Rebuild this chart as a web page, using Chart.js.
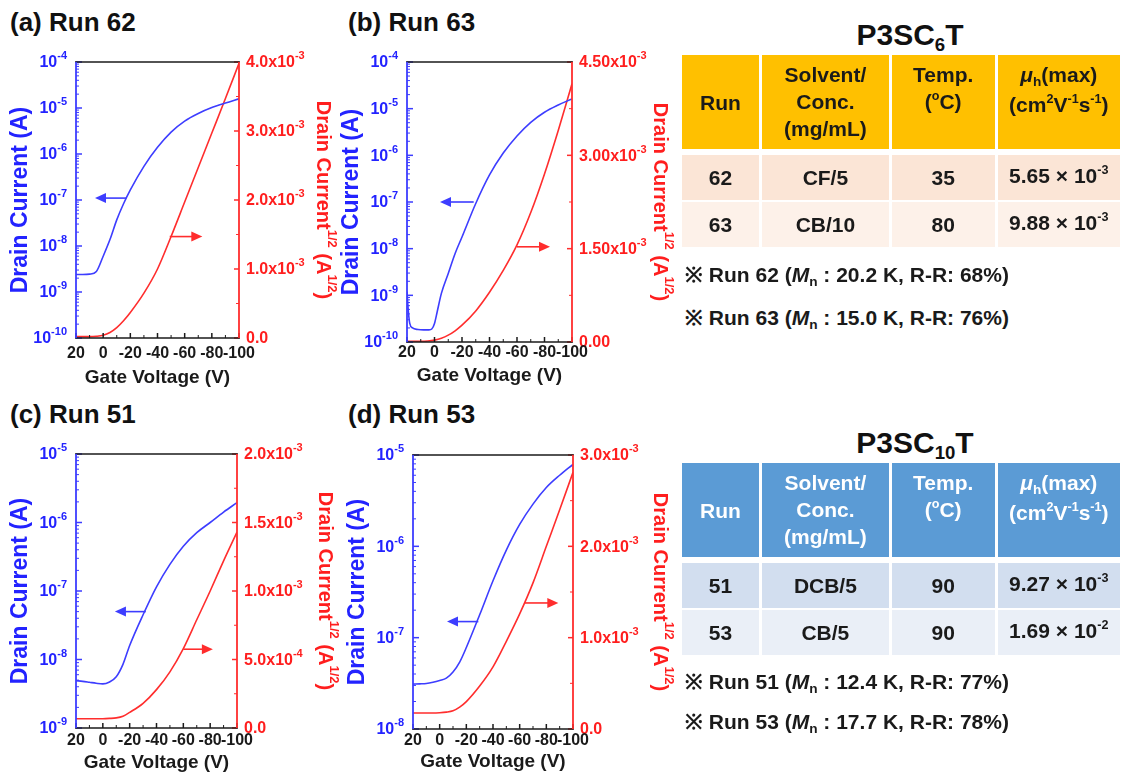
<!DOCTYPE html>
<html>
<head>
<meta charset="utf-8">
<script src="https://cdn.jsdelivr.net/npm/chart.js@4.4.1/dist/chart.umd.min.js"></script>
<style>
  html, body { margin: 0; padding: 0; background: #fff; }
  body { width: 1123px; height: 774px; position: relative; overflow: hidden;
         font-family: 'Liberation Sans', Arial, sans-serif; font-weight: bold; color: #1a1a1a; }
  .box { position: absolute; }
  .ptitle { position: absolute; font-size: 26px; line-height: 30px; color: #111; }
  .ttl { position: absolute; width: 230px; text-align: center; font-size: 30px; line-height: 34px; color: #111; }
  .ttl sub { font-size: 0.62em; vertical-align: 0; position: relative; top: 0.3em; }
  .tbl { position: absolute; left: 682px; border-collapse: separate; border-spacing: 0;
         table-layout: fixed; font-size: 21px; line-height: 27px; }
  .tbl td { text-align: center; padding: 0; border-right: 3px solid #fff; border-bottom: 2px solid #fff; }
  .tbl thead td { height: 88px; border-bottom: 6px solid #fff; vertical-align: top; padding-top: 6px; }
  .tbl thead td.mid { vertical-align: middle; padding-top: 0; }
  .tbl tbody td { height: 45px; }
  .tbl sup { font-size: 0.6em; vertical-align: 0; position: relative; top: -0.7em; }
  .tbl sub { font-size: 0.65em; vertical-align: 0; position: relative; top: 0.3em; }
  .orange thead td { background: #FFC000; color: #1a1a1a; }
  .orange tr.r1 td { background: #FBE5D6; }
  .orange tr.r2 td { background: #FDF1E9; }
  .blue thead td { background: #5B9BD5; color: #fff; }
  .blue tr.r1 td { background: #D2DEEF; }
  .blue tr.r2 td { background: #EAEFF7; }
  .note { position: absolute; left: 685px; font-size: 21px; line-height: 24px; white-space: nowrap; color: #1a1a1a; }
  .note sub { font-size: 0.65em; vertical-align: 0; position: relative; top: 0.3em; }
</style>
</head>
<body>
<div class="ptitle" style="left:10px;top:7px;">(a) Run 62</div>
<div class="ptitle" style="left:348px;top:7px;">(b) Run 63</div>
<div class="ptitle" style="left:10px;top:399px;">(c) Run 51</div>
<div class="ptitle" style="left:348px;top:399px;">(d) Run 53</div>

<div class="box" style="left:0;top:40px;width:340px;height:350px;"><canvas id="c62"></canvas></div>
<div class="box" style="left:340px;top:40px;width:345px;height:350px;"><canvas id="c63"></canvas></div>
<div class="box" style="left:0;top:430px;width:340px;height:344px;"><canvas id="c51"></canvas></div>
<div class="box" style="left:340px;top:430px;width:345px;height:344px;"><canvas id="c53"></canvas></div>

<div class="ttl" style="left:795px;top:18px;">P3SC<sub>6</sub>T</div>
<table class="tbl orange" style="top:55px;">
  <colgroup><col style="width:81px"><col style="width:131px"><col style="width:107px"><col style="width:126px"></colgroup>
  <thead><tr><td class="mid">Run</td><td>Solvent/<br>Conc.<br>(mg/mL)</td><td>Temp.<br>(<sup>o</sup>C)</td><td><i>μ</i><sub>h</sub>(max)<br>(cm<sup>2</sup>V<sup>-1</sup>s<sup>-1</sup>)</td></tr></thead>
  <tbody>
    <tr class="r1"><td>62</td><td>CF/5</td><td>35</td><td>5.65 × 10<sup>-3</sup></td></tr>
    <tr class="r2"><td>63</td><td>CB/10</td><td>80</td><td>9.88 × 10<sup>-3</sup></td></tr>
  </tbody>
</table>
<div class="note" style="top:263px;">※ Run 62 (<i>M</i><sub>n</sub> : 20.2 K, R-R: 68%)</div>
<div class="note" style="top:306px;">※ Run 63 (<i>M</i><sub>n</sub> : 15.0 K, R-R: 76%)</div>

<div class="ttl" style="left:800px;top:426px;">P3SC<sub>10</sub>T</div>
<table class="tbl blue" style="top:463px;">
  <colgroup><col style="width:81px"><col style="width:131px"><col style="width:107px"><col style="width:126px"></colgroup>
  <thead><tr><td class="mid">Run</td><td>Solvent/<br>Conc.<br>(mg/mL)</td><td>Temp.<br>(<sup>o</sup>C)</td><td><i>μ</i><sub>h</sub>(max)<br>(cm<sup>2</sup>V<sup>-1</sup>s<sup>-1</sup>)</td></tr></thead>
  <tbody>
    <tr class="r1"><td>51</td><td>DCB/5</td><td>90</td><td>9.27 × 10<sup>-3</sup></td></tr>
    <tr class="r2"><td>53</td><td>CB/5</td><td>90</td><td>1.69 × 10<sup>-2</sup></td></tr>
  </tbody>
</table>
<div class="note" style="top:670px;">※ Run 51 (<i>M</i><sub>n</sub> : 12.4 K, R-R: 77%)</div>
<div class="note" style="top:710px;">※ Run 53 (<i>M</i><sub>n</sub> : 17.7 K, R-R: 78%)</div>

<script>
// gate voltage sweep (V), shared by most curves
const gateV = [20, 15, 10, 5, 0, -5, -10, -15, -20, -30, -40, -50, -60, -70, -80, -90, -100];
// run 63 drain current has a spike at the start of the sweep, so denser points
const gateV63 = [20, 19, 18, 16, 12, 8, 4, 2, 0, -2, -5, -10, -15, -20, -30, -40, -50, -60, -70, -80, -90, -100];

// drain current (A), log axis
const id62 = [2.4e-9, 2.4e-9, 2.45e-9, 2.8e-9, 6.0e-9, 1.38e-8, 3.7e-8, 8.3e-8, 1.66e-7, 5.4e-7, 1.4e-6, 3.0e-6, 5.2e-6, 7.6e-6, 1.02e-5, 1.28e-5, 1.58e-5];
const id63 = [1.2e-9, 4.5e-10, 2.5e-10, 2.0e-10, 1.85e-10, 1.82e-10, 1.82e-10, 1.9e-10, 2.5e-10, 4.5e-10, 1.1e-9, 2.95e-9, 7.9e-9, 1.78e-8, 9.3e-8, 3.8e-7, 1.12e-6, 2.6e-6, 5.1e-6, 8.4e-6, 1.2e-5, 1.62e-5];
const id51 = [4.9e-9, 4.8e-9, 4.65e-9, 4.5e-9, 4.4e-9, 4.7e-9, 5.6e-9, 8.5e-9, 1.6e-8, 4.5e-8, 1.15e-7, 2.45e-7, 4.5e-7, 7.1e-7, 1.0e-6, 1.42e-6, 1.95e-6];
const id53 = [3.1e-8, 3.12e-8, 3.15e-8, 3.25e-8, 3.4e-8, 3.6e-8, 4.2e-8, 5.4e-8, 7.8e-8, 1.78e-7, 4.2e-7, 9.1e-7, 1.74e-6, 2.9e-6, 4.4e-6, 6.0e-6, 7.9e-6];

// sqrt drain current, in units of 1e-3 A^1/2
const sq62 = [0.02, 0.02, 0.02, 0.025, 0.04, 0.08, 0.15, 0.25, 0.37, 0.65, 1.0, 1.47, 1.97, 2.47, 2.97, 3.47, 3.98];
const sq63 = [0.01, 0.01, 0.01, 0.015, 0.03, 0.06, 0.11, 0.18, 0.27, 0.5, 0.8, 1.15, 1.56, 2.08, 2.7, 3.4, 4.15];
const sq51 = [0.068, 0.068, 0.068, 0.068, 0.068, 0.07, 0.074, 0.086, 0.114, 0.18, 0.28, 0.41, 0.58, 0.79, 1.0, 1.22, 1.43];
const sq53 = [0.175, 0.175, 0.175, 0.175, 0.178, 0.185, 0.2, 0.24, 0.3, 0.47, 0.68, 0.96, 1.26, 1.6, 2.0, 2.4, 2.81];

// x axis ticks
const xMajor = [20, 0, -20, -40, -60, -80, -100];
const xMinor = [10, -10, -30, -50, -70, -90];

// right axis ticks (1e-3 units) and their labels [mantissa text, exponent]
const rTicks62 = [0, 1, 2, 3, 4];
const rLabels62 = [['0.0', ''], ['1.0x10', '-3'], ['2.0x10', '-3'], ['3.0x10', '-3'], ['4.0x10', '-3']];
const rTicks63 = [0, 1.5, 3, 4.5];
const rLabels63 = [['0.00', ''], ['1.50x10', '-3'], ['3.00x10', '-3'], ['4.50x10', '-3']];
const rTicks51 = [0, 0.5, 1, 1.5, 2];
const rLabels51 = [['0.0', ''], ['5.0x10', '-4'], ['1.0x10', '-3'], ['1.5x10', '-3'], ['2.0x10', '-3']];
const rTicks53 = [0, 1, 2, 3];
const rLabels53 = [['0.0', ''], ['1.0x10', '-3'], ['2.0x10', '-3'], ['3.0x10', '-3']];

// arrows pointing to the axis each curve belongs to (data units)
const arrows62 = [{ axis: 'yL', y: 1.1e-7, from: -17, to: 6 }, { axis: 'yR', y: 1.47, from: -49, to: -73 }];
const arrows63 = [{ axis: 'yL', y: 1.0e-7, from: -28.5, to: -4 }, { axis: 'yR', y: 1.53, from: -60, to: -84 }];
const arrows51 = [{ axis: 'yL', y: 5.0e-8, from: -32, to: -9 }, { axis: 'yR', y: 0.575, from: -60, to: -82 }];
const arrows53 = [{ axis: 'yL', y: 1.5e-7, from: -29, to: -5.5 }, { axis: 'yR', y: 1.38, from: -64, to: -89 }];

const BLUE = '#3d3dff', RED = '#ff2d2d', TXTBLUE = '#2323ff', TXTRED = '#ff1e1e', INK = '#1a1a1a';
const FAMILY = "'Liberation Sans', Arial, sans-serif";

function font(size) { return `bold ${size}px ${FAMILY}`; }

function seg(ctx, x0, y0, x1, y1, color, w) {
  ctx.beginPath();
  ctx.strokeStyle = color;
  ctx.lineWidth = w;
  ctx.moveTo(x0, y0);
  ctx.lineTo(x1, y1);
  ctx.stroke();
}

// draw text made of normal and superscript parts
function parts(ctx, list, x, y, align, size, color) {
  const sup = Math.round(size * 0.66);
  const widths = list.map(([t, s]) => { ctx.font = font(s ? sup : size); return ctx.measureText(t).width; });
  const total = widths.reduce((a, b) => a + b, 0);
  let cx = align === 'right' ? x - total : align === 'center' ? x - total / 2 : x;
  ctx.fillStyle = color;
  ctx.textAlign = 'left';
  ctx.textBaseline = 'middle';
  list.forEach(([t, s], i) => {
    ctx.font = font(s ? sup : size);
    ctx.fillText(t, cx, s ? y - size * 0.42 : y);
    cx += widths[i];
  });
}

function makeDeco(s) {
  return {
    id: 'deco',
    afterDatasetsDraw(chart) {
      const { ctx, chartArea: a } = chart;
      const { x, yL, yR } = chart.scales;
      ctx.save();
      ctx.lineCap = 'butt';

      // left log axis
      const e0 = Math.round(Math.log10(s.logMin)), e1 = Math.round(Math.log10(s.logMax));
      for (let e = e0; e <= e1; e++) {
        const py = yL.getPixelForValue(Math.pow(10, e));
        seg(ctx, a.left, py, a.left + 6, py, BLUE, 1.5);
        parts(ctx, [['10', 0], [String(e), 1]], a.left - 9, py + 1, 'right', 16, TXTBLUE);
        if (e < e1) {
          for (let m = 2; m < 10; m++) {
            const q = yL.getPixelForValue(m * Math.pow(10, e));
            seg(ctx, a.left, q, a.left + 3, q, BLUE, 1);
          }
        }
      }

      // right linear axis
      s.rTicks.forEach((v, i) => {
        const py = yR.getPixelForValue(v);
        seg(ctx, a.right - 5, py, a.right, py, RED, 1.5);
        const [m, ex] = s.rLabels[i];
        const lst = ex ? [[m, 0], [ex, 1]] : [[m, 0]];
        parts(ctx, lst, a.right + 7, py + 1, 'left', s.rSize, TXTRED);
        if (i < s.rTicks.length - 1) {
          const q = yR.getPixelForValue((v + s.rTicks[i + 1]) / 2);
          seg(ctx, a.right - 3, q, a.right, q, RED, 1);
        }
      });

      // bottom axis
      xMajor.forEach(v => {
        const px = x.getPixelForValue(v);
        seg(ctx, px, a.bottom, px, a.bottom - 5, INK, 1.5);
        ctx.font = font(16);
        ctx.fillStyle = INK;
        ctx.textAlign = 'center';
        ctx.textBaseline = 'top';
        ctx.fillText(String(v), px, a.bottom + s.xGap);
      });
      xMinor.forEach(v => {
        const px = x.getPixelForValue(v);
        seg(ctx, px, a.bottom, px, a.bottom - 3, INK, 1);
      });

      // frame
      seg(ctx, a.left - 1, a.top, a.right + 1, a.top, INK, 1.5);
      seg(ctx, a.left - 1, a.bottom, a.right + 1, a.bottom, INK, 1.5);
      seg(ctx, a.left, a.top, a.left, a.bottom, BLUE, 1.8);
      seg(ctx, a.right, a.top, a.right, a.bottom, RED, 1.8);

      // axis titles
      parts(ctx, [['Gate Voltage (V)', 0]], (a.left + a.right) / 2, a.bottom + s.xTitle, 'center', 19, INK);
      ctx.save();
      ctx.translate(a.left - 55, (a.top + a.bottom) / 2);
      ctx.rotate(-Math.PI / 2);
      parts(ctx, [['Drain Current (A)', 0]], 0, 0, 'center', 23, TXTBLUE);
      ctx.restore();
      ctx.save();
      ctx.translate(a.right + s.rTitle, (a.top + a.bottom) / 2);
      ctx.rotate(Math.PI / 2);
      parts(ctx, [['Drain Current', 0], ['1/2', 1], [' (A', 0], ['1/2', 1], [')', 0]], 0, 0, 'center', 20, TXTRED);
      ctx.restore();

      // arrows
      s.arrows.forEach(ar => {
        const color = ar.axis === 'yL' ? BLUE : RED;
        const py = chart.scales[ar.axis].getPixelForValue(ar.y);
        const p0 = x.getPixelForValue(ar.from), p1 = x.getPixelForValue(ar.to);
        const dir = Math.sign(p1 - p0);
        seg(ctx, p0, py, p1 - dir * 8, py, color, 1.6);
        ctx.beginPath();
        ctx.fillStyle = color;
        ctx.moveTo(p1, py);
        ctx.lineTo(p1 - dir * 11, py - 5);
        ctx.lineTo(p1 - dir * 11, py + 5);
        ctx.closePath();
        ctx.fill();
      });
      ctx.restore();
    }
  };
}

function xy(xs, ys) { return xs.map((v, i) => ({ x: v, y: ys[i] })); }

function buildChart(canvasId, s) {
  return new Chart(document.getElementById(canvasId), {
    type: 'line',
    data: {
      datasets: [
        { data: xy(s.vId, s.id), yAxisID: 'yL', borderColor: BLUE, borderWidth: 1.6, pointRadius: 0, cubicInterpolationMode: 'monotone' },
        { data: xy(gateV, s.sq), yAxisID: 'yR', borderColor: RED, borderWidth: 1.6, pointRadius: 0, cubicInterpolationMode: 'monotone' },
      ],
    },
    options: {
      responsive: true,
      maintainAspectRatio: false,
      animation: false,
      devicePixelRatio: 1,
      layout: { padding: s.pad },
      plugins: { legend: { display: false }, tooltip: { enabled: false } },
      scales: {
        x: { type: 'linear', min: -100, max: 20, reverse: true, display: false },
        yL: { type: 'logarithmic', min: s.logMin, max: s.logMax, display: false },
        yR: { type: 'linear', min: 0, max: s.rMax, display: false },
      },
    },
    plugins: [makeDeco(s)],
  });
}

buildChart('c62', {
  vId: gateV, id: id62, sq: sq62, logMin: 1e-10, logMax: 1e-4, rMax: 4,
  rTicks: rTicks62, rLabels: rLabels62, rSize: 16, arrows: arrows62,
  pad: { left: 76, top: 22, right: 101, bottom: 52 }, xGap: 8, xTitle: 40, rTitle: 84,
});
buildChart('c63', {
  vId: gateV63, id: id63, sq: sq63, logMin: 1e-10, logMax: 1e-4, rMax: 4.5,
  rTicks: rTicks63, rLabels: rLabels63, rSize: 16, arrows: arrows63,
  pad: { left: 67, top: 22, right: 113, bottom: 48 }, xGap: 3, xTitle: 34, rTitle: 88,
});
buildChart('c51', {
  vId: gateV, id: id51, sq: sq51, logMin: 1e-9, logMax: 1e-5, rMax: 2,
  rTicks: rTicks51, rLabels: rLabels51, rSize: 16, arrows: arrows51,
  pad: { left: 76, top: 24, right: 103, bottom: 46 }, xGap: 5, xTitle: 35, rTitle: 88,
});
buildChart('c53', {
  vId: gateV, id: id53, sq: sq53, logMin: 1e-8, logMax: 1e-5, rMax: 3,
  rTicks: rTicks53, rLabels: rLabels53, rSize: 16, arrows: arrows53,
  pad: { left: 73, top: 25, right: 112, bottom: 45 }, xGap: 4, xTitle: 33, rTitle: 87,
});
</script>
</body>
</html>
